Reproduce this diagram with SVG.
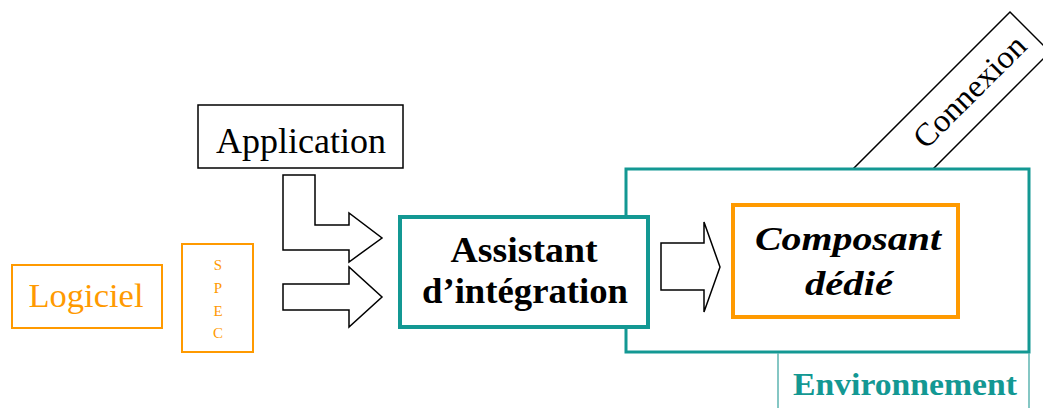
<svg xmlns="http://www.w3.org/2000/svg" width="1043" height="408" viewBox="0 0 1043 408">
<style>
.serif{font-family:"Liberation Serif","Times New Roman",serif}
.arrow{fill:#fff;stroke:#000;stroke-width:1.5;stroke-linejoin:miter}
.teal{fill:#fff;stroke:#139893}
.orange{fill:#fff;stroke:#FF9A00}
</style>
<rect width="1043" height="408" fill="#fff"/>
<g id="connexion">
<polygon points="1010,12 1050,52 902,200 822,200" fill="#fff" stroke="#000" stroke-width="1.5"/>
<text class="serif" transform="translate(970,92) rotate(-45)" x="0" y="10" text-anchor="middle" font-size="32" textLength="145" lengthAdjust="spacingAndGlyphs">Connexion</text>
</g>
<g id="environnement">
<rect x="626" y="169" width="403" height="183" class="teal" stroke-width="3"/>
<path d="M778,353 V408 M1029,353 V408" fill="none" stroke="#5DB5B1" stroke-width="1.5"/>
<text class="serif" x="905" y="395" text-anchor="middle" font-size="31" font-weight="bold" fill="#139893" textLength="224" lengthAdjust="spacingAndGlyphs">Environnement</text>
</g>
<g id="application">
<rect x="198" y="105" width="205" height="63" fill="#fff" stroke="#000" stroke-width="1.5"/>
<text class="serif" x="301" y="153" text-anchor="middle" font-size="35" textLength="170" lengthAdjust="spacingAndGlyphs">Application</text>
</g>
<g id="logiciel">
<rect x="12" y="265" width="150" height="63" class="orange" stroke-width="2"/>
<text class="serif" x="86" y="307" text-anchor="middle" font-size="34" fill="#FF9A00" textLength="115" lengthAdjust="spacingAndGlyphs">Logiciel</text>
</g>
<g id="spec">
<rect x="182" y="244" width="71" height="108" class="orange" stroke-width="2"/>
<g class="serif" font-size="15" fill="#FF9A00" text-anchor="middle">
<text x="218" y="270">S</text>
<text x="218" y="293">P</text>
<text x="218" y="316">E</text>
<text x="218" y="338">C</text>
</g>
</g>
<g id="assistant">
<rect x="400" y="217" width="248" height="110" class="teal" stroke-width="4"/>
<g class="serif" font-size="36" font-weight="bold" text-anchor="middle">
<text x="524" y="262" textLength="147" lengthAdjust="spacingAndGlyphs">Assistant</text>
<text x="525" y="303" textLength="206" lengthAdjust="spacingAndGlyphs">d’intégration</text>
</g>
</g>
<g id="composant">
<rect x="733" y="205" width="225" height="112" class="orange" stroke-width="4"/>
<g class="serif" font-size="33" font-weight="bold" font-style="italic" text-anchor="middle">
<text x="848" y="250" textLength="186" lengthAdjust="spacingAndGlyphs">Composant</text>
<text x="849" y="295" textLength="88" lengthAdjust="spacingAndGlyphs">dédié</text>
</g>
</g>
<g id="connectors">
<polygon class="arrow" points="283,175 315,175 315,225 349,225 349,213 382,238 349,262 349,250 283,250"/>
<polygon class="arrow" points="283,284 349,284 349,267 382,297 349,327 349,310 283,310"/>
<polygon class="arrow" points="661,243 704,243 704,222 720,267 704,312 704,290 661,290"/>
</g>
</svg>
